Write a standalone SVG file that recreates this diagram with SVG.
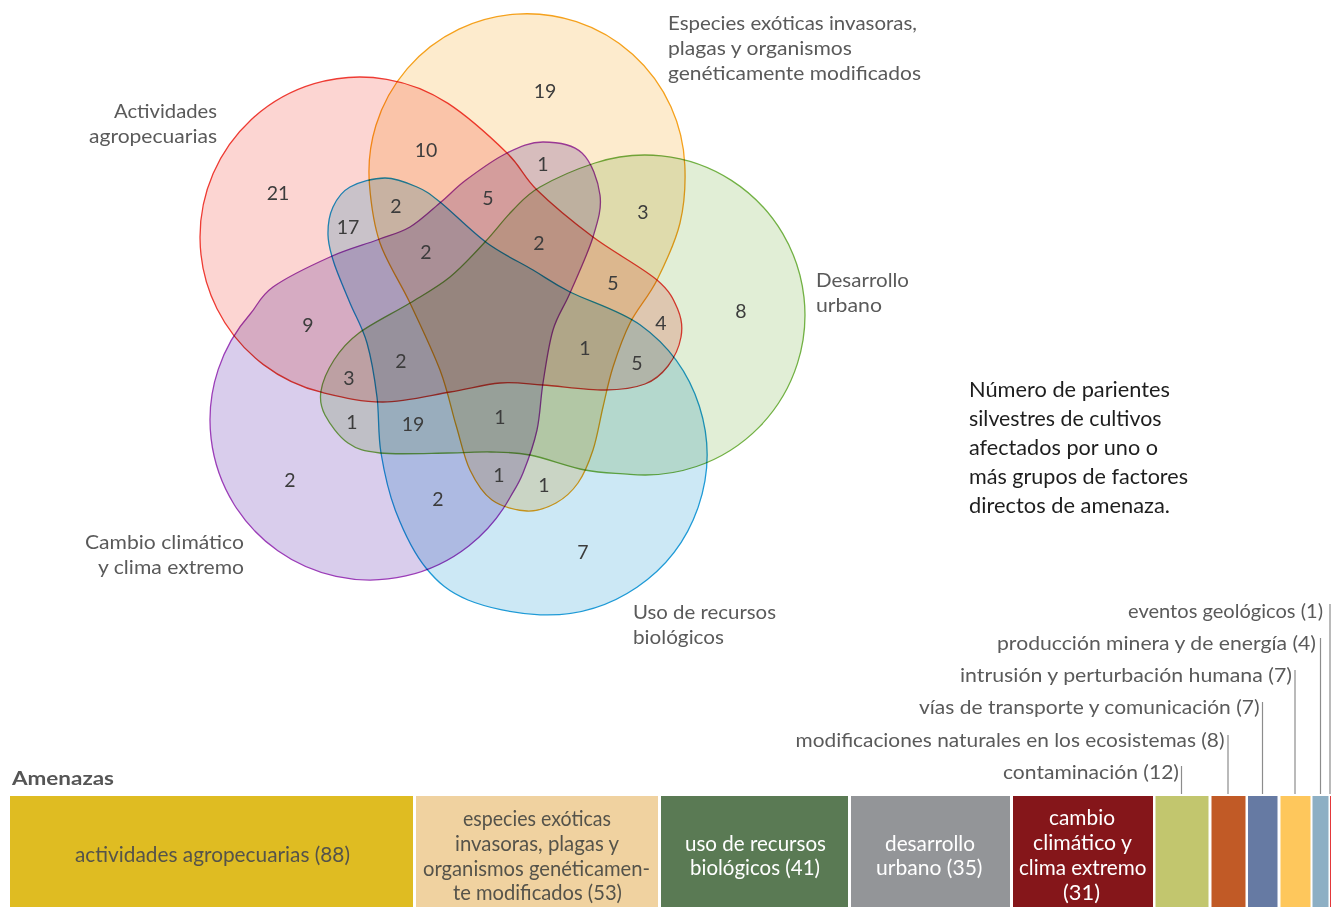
<svg xmlns="http://www.w3.org/2000/svg" width="1331" height="907" viewBox="0 0 1331 907">
<style>
text{font-family:Lato,"Noto Sans","DejaVu Sans",sans-serif}
.set{mix-blend-mode:multiply}
.lbl{font-size:20px;fill:#5a5a5a}
.num{font-size:19.5px;fill:#3c3c3c;text-anchor:middle}
.note{font-size:20.5px;fill:#1e1e1e}
.thr{font-size:19.5px;fill:#5a5a5a}
.bar{font-size:21px}
.dk{fill:#55534a}
.wt{fill:#ffffff}
.lead{stroke:#8c8c8c;stroke-width:1.2;fill:none}
.edge{stroke-width:1.3}
</style>
<rect x="0" y="0" width="1331" height="907" fill="#ffffff"/>

<g id="set-agro" class="set">
<path class="edge" fill="#fcd5d2" stroke="#ee3b33" d="M323,392.7 A160,160 0 1 1 448,103.4 C469.5,117.5 492.2,138.6 507,153 C521.8,167.4 522.7,176 537,190 C551.3,204 573,222 593,237 C613,252 642.8,267.8 657,280 C671.2,292.2 674,300.5 678,310 C682,319.5 682.7,327.7 681,337 C679.3,346.3 674,358.2 668,366 C662,373.8 655.5,380 645,384 C634.5,388 622,389.8 605,390 C588,390.2 560.5,386.2 543,385 C525.5,383.8 515.5,381.8 500,383 C484.5,384.2 469.5,388.8 450,392 C430.5,395.2 404.2,401.9 383,402 C361.8,402.1 342.7,397.4 323,392.7 Z"/>
<text class="lbl" x="114" y="118" textLength="103" lengthAdjust="spacingAndGlyphs">Actividades</text>
<text class="lbl" x="89" y="143" textLength="128" lengthAdjust="spacingAndGlyphs">agropecuarias</text>
</g>

<g id="set-especies" class="set">
<path class="edge" fill="#fdebcd" stroke="#f5a11c" d="M369.5,185 A158,158 0 1 1 684.8,165 C685.7,184.4 684.6,203.8 680,223 C675.4,242.2 665.3,263.3 657,280 C648.7,296.7 637.3,308.5 630,323 C622.7,337.5 617.5,353 613,367 C608.5,381 606.3,393.2 603,407 C599.7,420.8 597.2,437.3 593,450 C588.8,462.7 584.2,474.2 578,483 C571.8,491.8 564.5,498.3 556,503 C547.5,507.7 537.7,511.5 527,511 C516.3,510.5 501.5,506.8 492,500 C482.5,493.2 476,482.5 470,470 C464,457.5 461,441.7 456,425 C451,408.3 447.7,390.3 440,370 C432.3,349.7 420,324.2 410,303 C400,281.8 386.75,262.7 380,243 C373.25,223.3 371.1,204.5 369.5,185 Z"/>
<text class="lbl" x="668" y="29.5" textLength="249" lengthAdjust="spacingAndGlyphs">Especies exóticas invasoras,</text>
<text class="lbl" x="668" y="54.5" textLength="184" lengthAdjust="spacingAndGlyphs">plagas y organismos</text>
<text class="lbl" x="668" y="79.5" textLength="253" lengthAdjust="spacingAndGlyphs">genéticamente modificados</text>
</g>

<g id="set-urbano" class="set">
<path class="edge" fill="#e1eed6" stroke="#72b144" d="M595,163 A160,160 0 1 1 630,474.3 C615.1,472.9 601.7,473.2 585,470 C568.3,466.8 545.7,458 530,455 C514.3,452 504.7,452.3 491,452 C477.3,451.7 466.5,452.8 448,453 C429.5,453.2 396.7,454.7 380,453 C363.3,451.3 357.2,449.3 348,443 C338.8,436.7 329.5,423.5 325,415 C320.5,406.5 319.5,400.2 321,391 C322.5,381.8 327.7,369.8 334,360 C340.3,350.2 346.3,342.5 359,333 C371.7,323.5 394.8,312.3 410,303 C425.2,293.7 437.5,287.2 450,277 C462.5,266.8 474.5,253.2 485,242 C495.5,230.8 503.8,219.2 513,210 C522.2,200.8 526.3,194.8 540,187 C553.7,179.2 576,169.2 595,163 Z"/>
<text class="lbl" x="816" y="286.5" textLength="93" lengthAdjust="spacingAndGlyphs">Desarrollo</text>
<text class="lbl" x="816" y="311.5" textLength="66" lengthAdjust="spacingAndGlyphs">urbano</text>
</g>

<g id="set-recursos" class="set">
<path class="edge" fill="#cce8f5" stroke="#1e9ad6" d="M640,324.8 A160,160 0 0 1 540,614.8 C515.5,613.7 487,607.8 468,600 C449,592.2 438,582.7 426,568 C414,553.3 403.5,531.2 396,512 C388.5,492.8 384.2,472.2 381,453 C377.8,433.8 379.3,415.3 377,397 C374.7,378.7 371.5,358.7 367,343 C362.5,327.3 355.5,316.3 350,303 C344.5,289.7 337.7,274.3 334,263 C330.3,251.7 328.2,244.3 328,235 C327.8,225.7 329.3,215 333,207 C336.7,199 341.3,191.8 350,187 C358.7,182.2 373.8,178 385,178 C396.2,178 407.8,183 417,187 C426.2,191 428.3,192.7 440,202 C451.7,211.3 471.5,231.7 487,243 C502.5,254.3 519.2,261.8 533,270 C546.8,278.2 552.2,282.9 570,292 C587.8,301.1 619,309.8 640,324.8 Z"/>
<text class="lbl" x="633" y="618.5" textLength="143" lengthAdjust="spacingAndGlyphs">Uso de recursos</text>
<text class="lbl" x="633" y="643.5" textLength="91" lengthAdjust="spacingAndGlyphs">biológicos</text>
</g>

<g id="set-clima" class="set">
<path class="edge" fill="#d9cdec" stroke="#9b3db8" d="M510,497.5 A160,160 0 1 1 250,314.2 C257.9,305.3 259.7,296.5 273,287 C286.3,277.5 312.7,264.8 330,257 C347.3,249.2 363.7,245 377,240 C390.3,235 399.3,233.3 410,227 C420.7,220.7 431.7,209.8 441,202 C450.3,194.2 455,188.2 466,180 C477,171.8 494.2,159.3 507,153 C519.8,146.7 530.5,142 543,142 C555.5,142 572.5,144.2 582,153 C591.5,161.8 598.2,181 600,195 C601.8,209 598,220.7 593,237 C588,253.3 576.7,277.5 570,293 C563.3,308.5 557.5,315 553,330 C548.5,345 545.7,366.3 543,383 C540.3,399.7 540.3,415 537,430 C533.7,445 527.5,461.75 523,473 C518.5,484.25 514.5,489.5 510,497.5 Z"/>
<text class="lbl" x="85" y="549" textLength="159" lengthAdjust="spacingAndGlyphs">Cambio climático</text>
<text class="lbl" x="98" y="574" textLength="146" lengthAdjust="spacingAndGlyphs">y clima extremo</text>
</g>

<g id="venn-counts">
<text class="num" x="545" y="98">19</text>
<text class="num" x="426" y="157">10</text>
<text class="num" x="278" y="200">21</text>
<text class="num" x="543" y="171">1</text>
<text class="num" x="488" y="205">5</text>
<text class="num" x="396" y="213">2</text>
<text class="num" x="643" y="219">3</text>
<text class="num" x="348" y="234">17</text>
<text class="num" x="426" y="259">2</text>
<text class="num" x="539" y="250">2</text>
<text class="num" x="613" y="290">5</text>
<text class="num" x="661" y="330">4</text>
<text class="num" x="741" y="318">8</text>
<text class="num" x="308" y="332">9</text>
<text class="num" x="585" y="355">1</text>
<text class="num" x="401" y="368">2</text>
<text class="num" x="637" y="370">5</text>
<text class="num" x="349" y="385">3</text>
<text class="num" x="352" y="429">1</text>
<text class="num" x="413" y="431">19</text>
<text class="num" x="500" y="424">1</text>
<text class="num" x="499" y="482">1</text>
<text class="num" x="544" y="492">1</text>
<text class="num" x="290" y="487">2</text>
<text class="num" x="438" y="506">2</text>
<text class="num" x="583" y="559">7</text>
</g>

<g id="note">
<text class="note" x="969" y="396.5" textLength="201" lengthAdjust="spacingAndGlyphs">Número de parientes</text>
<text class="note" x="969" y="425.5" textLength="192.5" lengthAdjust="spacingAndGlyphs">silvestres de cultivos</text>
<text class="note" x="969" y="454.5" textLength="189" lengthAdjust="spacingAndGlyphs">afectados por uno o</text>
<text class="note" x="969" y="483.5" textLength="219" lengthAdjust="spacingAndGlyphs">más grupos de factores</text>
<text class="note" x="969" y="512.5" textLength="201" lengthAdjust="spacingAndGlyphs">directos de amenaza.</text>
</g>

<g id="title">
<text x="12" y="785" font-size="19" font-weight="700" fill="#555555" textLength="102" lengthAdjust="spacingAndGlyphs">Amenazas</text>
</g>

<g id="bar-agro">
<rect x="10" y="796" width="403" height="111" fill="#dfbc22"/>
<text class="bar dk" x="75" y="862" textLength="275" lengthAdjust="spacingAndGlyphs">actividades agropecuarias (88)</text>
</g>
<g id="bar-especies">
<rect x="416" y="796" width="242" height="111" fill="#f0d2a0"/>
<text class="bar dk" x="463" y="825.5" textLength="148" lengthAdjust="spacingAndGlyphs">especies exóticas</text>
<text class="bar dk" x="455" y="850.5" textLength="164" lengthAdjust="spacingAndGlyphs">invasoras, plagas y</text>
<text class="bar dk" x="423" y="875.5" textLength="227" lengthAdjust="spacingAndGlyphs">organismos genéticamen-</text>
<text class="bar dk" x="453" y="900" textLength="169" lengthAdjust="spacingAndGlyphs">te modificados (53)</text>
</g>
<g id="bar-recursos">
<rect x="661" y="796" width="187" height="111" fill="#5a7a54"/>
<text class="bar wt" x="685" y="850.5" textLength="141" lengthAdjust="spacingAndGlyphs">uso de recursos</text>
<text class="bar wt" x="690" y="875" textLength="130" lengthAdjust="spacingAndGlyphs">biológicos (41)</text>
</g>
<g id="bar-urbano">
<rect x="851" y="796" width="159" height="111" fill="#939598"/>
<text class="bar wt" x="885" y="850.5" textLength="90" lengthAdjust="spacingAndGlyphs">desarrollo</text>
<text class="bar wt" x="876" y="875" textLength="106.5" lengthAdjust="spacingAndGlyphs">urbano (35)</text>
</g>
<g id="bar-clima">
<rect x="1013" y="796" width="140" height="111" fill="#85161a"/>
<text class="bar wt" x="1049" y="825" textLength="66" lengthAdjust="spacingAndGlyphs">cambio</text>
<text class="bar wt" x="1033" y="850" textLength="99" lengthAdjust="spacingAndGlyphs">climático y</text>
<text class="bar wt" x="1019" y="875" textLength="127.5" lengthAdjust="spacingAndGlyphs">clima extremo</text>
<text class="bar wt" x="1063" y="900" textLength="37" lengthAdjust="spacingAndGlyphs">(31)</text>
</g>
<g id="bar-contaminacion">
<rect x="1155.5" y="796" width="53" height="111" fill="#c2c66e"/>
<text class="thr" x="1003" y="778.5" textLength="176" lengthAdjust="spacingAndGlyphs">contaminación (12)</text>
</g>
<g id="bar-modificaciones">
<rect x="1211.5" y="796" width="34" height="111" fill="#c15a26"/>
<text class="thr" x="795.5" y="746.5" textLength="429" lengthAdjust="spacingAndGlyphs">modificaciones naturales en los ecosistemas (8)</text>
</g>
<g id="bar-vias">
<rect x="1248" y="796" width="29.5" height="111" fill="#667aa3"/>
<text class="thr" x="919" y="714" textLength="340.5" lengthAdjust="spacingAndGlyphs">vías de transporte y comunicación (7)</text>
</g>
<g id="bar-intrusion">
<rect x="1280.5" y="796" width="30" height="111" fill="#fec75c"/>
<text class="thr" x="960" y="682" textLength="332" lengthAdjust="spacingAndGlyphs">intrusión y perturbación humana (7)</text>
</g>
<g id="bar-mineria">
<rect x="1312.5" y="796" width="16" height="111" fill="#8dafc4"/>
<text class="thr" x="997" y="649.5" textLength="319" lengthAdjust="spacingAndGlyphs">producción minera y de energía (4)</text>
</g>
<g id="bar-geologicos">
<rect x="1330" y="796" width="2" height="111" fill="#e4373a"/>
<text class="thr" x="1128" y="617.5" textLength="195" lengthAdjust="spacingAndGlyphs">eventos geológicos (1)</text>
</g>

<g id="connectors">
<line class="lead" x1="1181.5" y1="766" x2="1181.5" y2="794"/>
<line class="lead" x1="1228" y1="735" x2="1228" y2="794"/>
<line class="lead" x1="1262.5" y1="702" x2="1262.5" y2="794"/>
<line class="lead" x1="1295" y1="670" x2="1295" y2="794"/>
<line class="lead" x1="1320.5" y1="638" x2="1320.5" y2="794"/>
<line class="lead" x1="1330" y1="604" x2="1330" y2="794"/>
</g>
</svg>
